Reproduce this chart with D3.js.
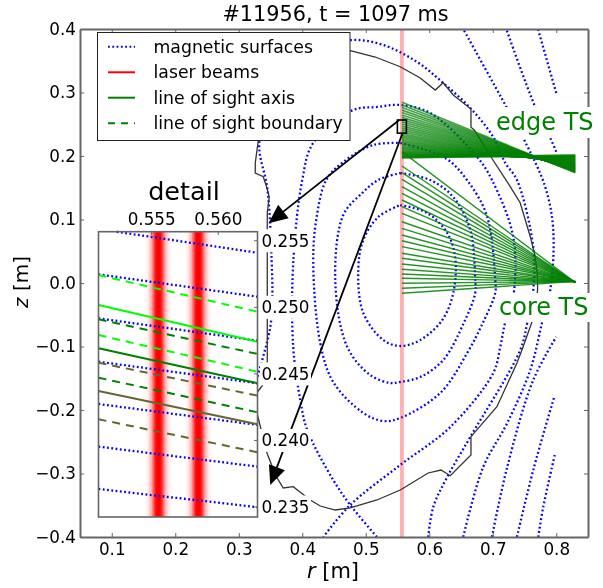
<!DOCTYPE html>
<html><head><meta charset="utf-8">
<script src="https://cdn.jsdelivr.net/npm/d3@7"></script>
<style>
html,body{margin:0;padding:0;background:#fff}
svg{display:block;filter:blur(0.5px)}
text{font-family:"DejaVu Sans",sans-serif;fill:#000}
</style></head><body><svg id="c" width="603" height="588"></svg>
<script>
// ---- data (r [m], z [m]) ----
const titleText = "#11956, t = 1097 ms";
const rTicks = [0.1,0.2,0.3,0.4,0.5,0.6,0.7,0.8];
const zTicks = [-0.4,-0.3,-0.2,-0.1,0,0.1,0.2,0.3,0.4];
const detailRTicks = [0.555,0.560];
const detailZTicks = [0.235,0.240,0.245,0.250,0.255];
const surfaceA = [[.5543,.1228],[.5969,.1102],[.6283,.0787],[.6409,.0394],[.6378,-.0157],[.6205,-.0583],[.5858,-.0898],[.5543,-.0992],[.5276,-.0898],[.4961,-.0472],[.4882,.0205],[.4961,.0677],[.5197,.1039],[.5543,.1228]];
const surfaceB = [[.5543,.1732],[.6016,.1622],[.6378,.1354],[.6646,.0835],[.6724,.0047],[.6724,-.0157],[.6551,-.0614],[.6220,-.1213],[.5858,-.1480],[.5543,-.1559],[.5386,-.1575],[.5071,-.1449],[.4709,-.1008],[.4520,.0047],[.4646,.1071],[.4945,.1417],[.5197,.1622],[.5543,.1732]];
const surfaceC = [[.5543,.2205],[.6252,.1969],[.6594,.1622],[.6909,.1055],[.7039,.0047],[.7039,-.0157],[.6850,-.0614],[.6598,-.1102],[.6173,-.1732],[.5543,-.2126],[.5276,-.2173],[.4961,-.2047],[.4488,-.1559],[.4283,-.0945],[.4173,.0315],[.4220,.0992],[.4378,.1622],[.4646,.1906],[.5118,.2173],[.5543,.2205]];
const surfaceD = [[.5176,-.4],[.4756,-.3496],[.4488,-.3102],[.4079,-.2315],[.3969,-.1843],[.3858,-.1008],[.3858,.0315],[.4,.1622],[.4173,.2205],[.4803,.2724],[.5181,.2772],[.5543,.2803],[.6016,.2677],[.6751,.1989],[.6987,.1622],[.7323,.0724],[.7323,-.0220],[.7197,-.0614],[.7118,-.1008],[.7008,-.1417],[.6331,-.2268],[.5543,-.2866],[.4756,-.3496],[.4331,-.4]];
const surfaceE = [[.5984,-.4],[.6063,-.3528],[.6283,-.3055],[.6646,-.2425],[.7433,-.1055],[.7543,-.0630],[.7638,-.0110],[.7638,.0567],[.7381,.1622],[.7197,.1890],[.7008,.2299],[.6646,.2756],[.6220,.3150],[.5811,.3480],[.5276,.3748],[.4803,.3827],[.4126,.3669],[.3575,.3039],[.3323,.2205],[.3449,.1496],[.3512,.0520],[.3512,-.0583],[.3370,-.1213],[.3181,-.1843]];
const surfaceF = [[.6535,-.4],[.6850,-.2898],[.7228,-.2205],[.7591,-.1370],[.7775,-.0630],[.7906,-.0110],[.7953,.0835],[.7827,.1512],[.7480,.2283],[.7224,.2756],[.6535,.4]];
const surfaceG1 = [[.6987,-.4],[.7228,-.2898],[.7638,-.1528],[.8,-.0850]];
const surfaceG2 = [[.8,.2068],[.7906,.2283],[.7669,.2772],[.7213,.4]];
const surfaceH1 = [[.7381,-.4],[.7638,-.2945],[.7969,-.1791]];
const surfaceH2 = [[.8,.2992],[.7712,.4]];
const surfaceI = [[.7717,-.4],[.7795,-.3528],[.7984,-.2677]];
const wall = [[.4756,.3658],[.5150,.3559],[.5543,.3406],[.5858,.3228],[.6094,.3039],[.6220,.3154],[.6378,.2961],[.6657,.2740],[.6657,.2452],[.6709,.2409],[.7003,.1937],[.7276,.1517],[.7433,.1260],[.7591,.0729],[.7669,.0414],[.7706,.0099],[.7706,-.0110],[.7669,-.0425],[.7617,-.0614],[.7460,-.1055],[.7381,-.1260],[.7066,-.1948],[.6657,-.2420],[.6657,-.2709],[.6331,-.3035],[.6184,-.2945],[.5984,-.2992],[.5543,-.3260],[.5176,-.3417],[.4756,-.3543],[.4520,-.3575],[.4283,-.3512],[.4126,-.3417],[.3858,-.3208],[.3701,-.3228],[.3591,-.3050],[.3444,-.2677],[.3287,-.2047],[.3181,-.1843],[.3307,-.1701],[.3402,-.1575],[.3449,-.1244],[.3449,.1102],[.3480,.1354],[.3444,.1496],[.3386,.1674],[.3260,.1732],[.3260,.1890],[.3307,.2236],[.3969,.3512],[.4756,.3658]];
const laserR = [0.5555,0.5585];
const losStartR = 0.557, losEndR = 0.83;
const edgeStartZ = [.2846,.2804,.2763,.2723,.2684,.2646,.2609,.2573,.2538,.2504,.2471,.2439,.2408,.2378,.2349,.2321,.2294,.2268,.2243,.2219,.2196,.2174,.2153,.2133,.2114,.2096,.2079,.2063,.2048,.2034,.2021,.2009,.1998,.1988,.1978,.1969];
const edgeEndZ = [.1737,.1745,.1753,.1761,.1769,.1777,.1785,.1793,.1801,.1809,.1817,.1825,.1833,.1841,.1849,.1857,.1865,.1873,.1881,.1889,.1897,.1905,.1913,.1921,.1929,.1937,.1945,.1953,.1961,.1969,.1977,.1985,.1993,.2001,.2009,.2016];
const coreStartZ = [.2068,.1843,.1737,.1633,.1517,.1412,.1307,.1202,.1097,.0965,.0861,.0756,.0666,.0572,.0468,.0389,.0299,.0216,.0142,.0074,-.0005,-.0083,-.0162];
const coreEndZ = [.0005,.0006,.0007,.0008,.0009,.0010,.0011,.0012,.0013,.0014,.0015,.0016,.0016,.0017,.0018,.0019,.0020,.0021,.0022,.0023,.0024,.0025,.0025];
const detailBox = {r:[.5498,.5640], z:[.2360,.2567]};
const arrows = [{from:[.5528,.2567],to:[.3469,.0940]},{from:[.5575,.2346],to:[.3496,-.3181]}];
// detail panel
const detailDomainR = [.551006,.562943], detailDomainZ = [.23425,.25568];
const detailSurfaces = [
 [[.552372,.255676],[.562943,.2541]],
 [[.551006,.252477],[.562943,.250796]],
 [[.551006,.249174],[.562943,.247492]],
 [[.551006,.245916],[.562943,.244294]],
 [[.551006,.24274],[.562943,.241164]],
 [[.551006,.239535],[.562943,.238033]],
 [[.551006,.236359],[.562943,.234985]]];
const detailLosColors = ["#00ff00","#008000","#666633"];
const detailAxisZ = [[.250173,.247417],[.246922,.244294],[.243716,.241216]];
const detailUpperZ = [[.252425,.24967],[.2491,.246494],[.245841,.243363]];
const detailLowerZ = [[.24792,.245165],[.244715,.242117],[.241592,.239114]];
const legendLabels = ["magnetic surfaces","laser beams","line of sight axis","line of sight boundary"];

// ---- drawing ----
const svg = d3.select("#c");
const x = d3.scaleLinear().domain([.05,.85]).range([80,588]);
const y = d3.scaleLinear().domain([-.4,.4]).range([537,29]);
const ix = d3.scaleLinear().domain(detailDomainR).range([98.5,257.5]);
const iy = d3.scaleLinear().domain(detailDomainZ).range([517,231.7]);
const smooth = d3.line().x(d=>x(d[0])).y(d=>y(d[1])).curve(d3.curveCatmullRom.alpha(.5));
const straight = d3.line().x(d=>x(d[0])).y(d=>y(d[1]));
const istraight = d3.line().x(d=>ix(d[0])).y(d=>iy(d[1]));
const BLUE="#0000ff", DOT="1.8 2.5", FRAME="#666";

const defs = svg.append("defs");
const g = defs.append("linearGradient").attr("id","gauss");
[[0,0],[.12,.06],[.25,.3],[.38,.85],[.44,1],[.56,1],[.62,.85],[.75,.3],[.88,.06],[1,0]].forEach(s=>{
  g.append("stop").attr("offset",s[0]).attr("stop-color","#f00").attr("stop-opacity",s[1]);
});
const clip = defs.append("clipPath").attr("id","mainclip");
clip.append("rect").attr("x",80).attr("y",29).attr("width",508).attr("height",508);

const main = svg.append("g").attr("clip-path","url(#mainclip)");
[surfaceA,surfaceB,surfaceC,surfaceD,surfaceE,surfaceF,surfaceG1,surfaceG2,surfaceH1,surfaceH2,surfaceI].forEach(s=>{
  main.append("path").attr("d",smooth(s)).attr("fill","none").attr("stroke",BLUE).attr("stroke-width",2.3).attr("stroke-dasharray",DOT);
});
main.append("path").attr("d",straight(wall)).attr("fill","none").attr("stroke","#333").attr("stroke-width",1.3);
laserR.forEach(r=>{
  main.append("line").attr("x1",x(r)).attr("x2",x(r)).attr("y1",y(.4)).attr("y2",y(-.4)).attr("stroke","#f00").attr("stroke-opacity",.3).attr("stroke-width",2);
});
edgeStartZ.forEach((z,i)=>{
  main.append("path").attr("d",straight([[losStartR,z],[losEndR,edgeEndZ[i]]])).attr("stroke","#008000").attr("stroke-opacity",.72).attr("stroke-width",1.7).attr("fill","none");
});
coreStartZ.forEach((z,i)=>{
  main.append("path").attr("d",straight([[losStartR,z],[losEndR,coreEndZ[i]]])).attr("stroke","#008000").attr("stroke-opacity",.85).attr("stroke-width",1.4).attr("fill","none");
});
// detail rectangle
svg.append("rect").attr("x",x(detailBox.r[0])).attr("y",y(detailBox.z[1]))
  .attr("width",x(detailBox.r[1])-x(detailBox.r[0])).attr("height",y(detailBox.z[0])-y(detailBox.z[1]))
  .attr("fill","none").attr("stroke","#000").attr("stroke-width",1.6);
// arrows
arrows.forEach(a=>{
  const x0=x(a.from[0]),y0=y(a.from[1]),x1=x(a.to[0]),y1=y(a.to[1]);
  const L=Math.hypot(x1-x0,y1-y0),ux=(x1-x0)/L,uy=(y1-y0)/L;
  svg.append("line").attr("x1",x0).attr("y1",y0).attr("x2",x1-ux*10).attr("y2",y1-uy*10).attr("stroke","#000").attr("stroke-width",1.8);
  const h=19,w=8.5,bx=x1-ux*h,by=y1-uy*h;
  svg.append("polygon").attr("points",[[x1,y1],[bx-uy*w,by+ux*w],[bx+uy*w,by-ux*w]].map(p=>p.join(",")).join(" ")).attr("fill","#000");
});
// frame and main axes
const fmt = d=>d3.format(".1f")(d).replace("-","\u2212");
function styleAxis(sel,fs){sel.selectAll("text").style("font-size",fs+"px").attr("fill","#000");
  sel.selectAll(".tick line").attr("stroke",FRAME).attr("stroke-width",1);sel.select(".domain").attr("stroke",FRAME).attr("stroke-width",2);}
const TF=16.8;
styleAxis(svg.append("g").attr("transform","translate(0,537)").call(d3.axisBottom(x).tickValues(rTicks).tickFormat(fmt).tickSize(-4).tickSizeOuter(0).tickPadding(6)),TF);
styleAxis(svg.append("g").attr("transform","translate(0,29)").call(d3.axisTop(x).tickValues(rTicks).tickFormat("").tickSize(-4).tickSizeOuter(0)),TF);
styleAxis(svg.append("g").attr("transform","translate(80,0)").call(d3.axisLeft(y).tickValues(zTicks).tickFormat(fmt).tickSize(-4).tickSizeOuter(0).tickPadding(4)),TF);
styleAxis(svg.append("g").attr("transform","translate(588,0)").call(d3.axisRight(y).tickValues(zTicks).tickFormat("").tickSize(-4).tickSizeOuter(0)),TF);
svg.append("text").attr("x",335.5).attr("y",21).attr("text-anchor","middle").style("font-size","20.8px").text(titleText);
const xl = svg.append("text").attr("x",333).attr("y",578).attr("text-anchor","middle").style("font-size","21px");
xl.append("tspan").style("font-style","italic").text("r");xl.append("tspan").text(" [m]");
const yl = svg.append("text").attr("transform","translate(28,282) rotate(-90)").attr("text-anchor","middle").style("font-size","20px");
yl.append("tspan").style("font-style","italic").text("z");yl.append("tspan").text(" [m]");
// TS labels with white boxes
[["edge TS",495,107,100,31,496,130],["core TS",497,293,93,29,499,315]].forEach(l=>{
  svg.append("rect").attr("x",l[1]).attr("y",l[2]).attr("width",l[3]).attr("height",l[4]).attr("fill","#fff");
  svg.append("text").attr("x",l[5]).attr("y",l[6]).style("font-size","24px").style("fill","#008000").text(l[0]);
});
// detail panel
const inset = svg.append("g");
inset.append("rect").attr("x",ix.range()[0]).attr("y",iy.range()[1]).attr("width",159).attr("height",iy.range()[0]-iy.range()[1]).attr("fill","#fff");
laserR.forEach(r=>{
  inset.append("rect").attr("x",ix(r-.00105)).attr("width",ix(r+.00105)-ix(r-.00105)).attr("y",iy.range()[1]).attr("height",iy.range()[0]-iy.range()[1]).attr("fill","url(#gauss)");
});
detailSurfaces.forEach(s=>{
  inset.append("path").attr("d",istraight(s)).attr("fill","none").attr("stroke",BLUE).attr("stroke-width",2.3).attr("stroke-dasharray",DOT);
});
detailLosColors.forEach((c,i)=>{
  const rr=detailDomainR;
  inset.append("path").attr("d",istraight([[rr[0],detailAxisZ[i][0]],[rr[1],detailAxisZ[i][1]]])).attr("stroke",c).attr("stroke-width",2).attr("fill","none");
  [detailUpperZ,detailLowerZ].forEach(a=>{
    inset.append("path").attr("d",istraight([[rr[0],a[i][0]],[rr[1],a[i][1]]])).attr("stroke",c).attr("stroke-width",2).attr("stroke-dasharray","8 6").attr("fill","none");
  });
});
inset.append("rect").attr("x",98.5).attr("y",231.7).attr("width",159).attr("height",285.3).attr("fill","none").attr("stroke",FRAME).attr("stroke-width",1.6);
const fmt3=d3.format(".3f");
detailRTicks.forEach(r=>{
  inset.append("line").attr("x1",ix(r)).attr("x2",ix(r)).attr("y1",231.7).attr("y2",235).attr("stroke",FRAME);
  inset.append("text").attr("x",ix(r)).attr("y",224.5).attr("text-anchor","middle").style("font-size",TF+"px").text(fmt3(r));
});
detailZTicks.forEach(z=>{
  inset.append("line").attr("x1",254).attr("x2",257.5).attr("y1",iy(z)).attr("y2",iy(z)).attr("stroke",FRAME);
  inset.append("rect").attr("x",260).attr("y",iy(z)-11.5).attr("width",51).attr("height",23).attr("fill","#fff");
  inset.append("text").attr("x",261.5).attr("y",iy(z)+6).style("font-size",TF+"px").text(fmt3(z));
});
inset.append("text").attr("x",184).attr("y",200).attr("text-anchor","middle").style("font-size","25.5px").text("detail");
// legend
const leg = svg.append("g");
leg.append("rect").attr("x",97.5).attr("y",32.5).attr("width",252.5).attr("height",108).attr("fill","#fff").attr("stroke","#222").attr("stroke-width",1);
const legY=[46.7,72.3,97.7,123.3];
const legStyle=[[BLUE,DOT],["#ff0000",null],["#008000",null],["#008000","7 6"]];
legendLabels.forEach((t,i)=>{
  const ln=leg.append("line").attr("x1",108).attr("x2",135).attr("y1",legY[i]).attr("y2",legY[i]).attr("stroke",legStyle[i][0]).attr("stroke-width",2);
  if(legStyle[i][1]) ln.attr("stroke-dasharray",legStyle[i][1]);
  leg.append("text").attr("x",153.5).attr("y",legY[i]+6).style("font-size","17.3px").text(t);
});
</script></body></html>
